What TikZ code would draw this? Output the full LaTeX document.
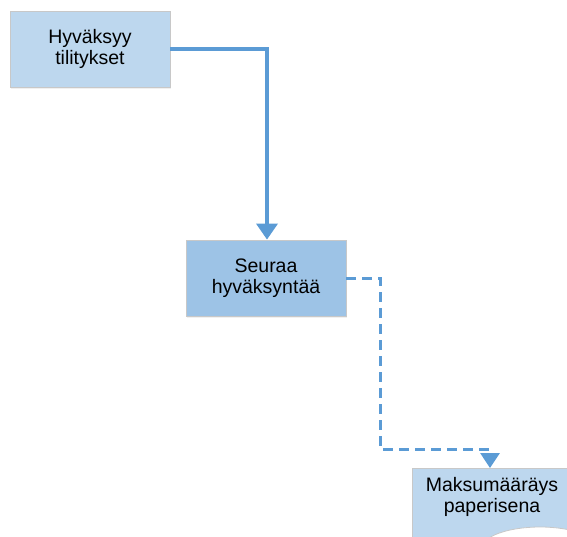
\documentclass[tikz,border=0pt]{standalone}
\usepackage{fontspec}
\setmainfont{Liberation Sans}
\usetikzlibrary{arrows.meta,shadows}
\definecolor{boxlight}{HTML}{BDD7EE}
\definecolor{boxmid}{HTML}{9DC3E6}
\definecolor{flowblue}{HTML}{5B9BD5}
\definecolor{edgegray}{HTML}{C8C8C8}
\tikzset{
  taskfont/.style={font=\fontsize{19.5}{21}\selectfont, align=center, inner sep=0pt},
  taskbox/.style={taskfont, draw=edgegray, line width=0.8pt, minimum width=160pt, minimum height=76pt,
    drop shadow={opacity=0.12, shadow xshift=1.2pt, shadow yshift=-1.5pt}},
  mainflow/.style={draw=flowblue, line width=3.6pt, line join=miter, -{Triangle[width=21pt,length=16pt]}},
  sideflow/.style={draw=flowblue, line width=3pt, dash pattern=on 10pt off 6pt,
    -{Triangle[width=19pt,length=15pt]}}
}
\begin{document}
\begin{tikzpicture}[x=1pt,y=-1pt]
  \useasboundingbox (0,0) rectangle (567,536);
  \clip (0,0) rectangle (567,536);

  % tasks
  \node[taskbox, fill=boxlight] (approve) at (90,49) {Hyväksyy\\tilitykset};
  \node[taskbox, fill=boxmid] (follow) at (266,278) {Seuraa\\hyväksyntää};
  \node[taskbox, fill=boxlight, minimum height=80pt, anchor=north] (paper) at (492,468) {};
  \node[taskfont] (papertext) at (492,497) {Maksumääräys\\paperisena};
  \draw[edgegray, fill=white, line width=0.8pt] (540,548) ellipse [x radius=58, y radius=21];

  % routing points
  \coordinate (c1) at (267,49);
  \coordinate (d1) at (380,278);
  \coordinate (d2) at (380,449);
  \coordinate (d3) at (490,449);

  % connectors
  \draw[mainflow] (approve.east) -- (c1) -- (c1 |- follow.north);
  \draw[sideflow] (follow.east) -- (d1) -- (d2) -- (d3) -- (d3 |- paper.north);
\end{tikzpicture}
\end{document}
